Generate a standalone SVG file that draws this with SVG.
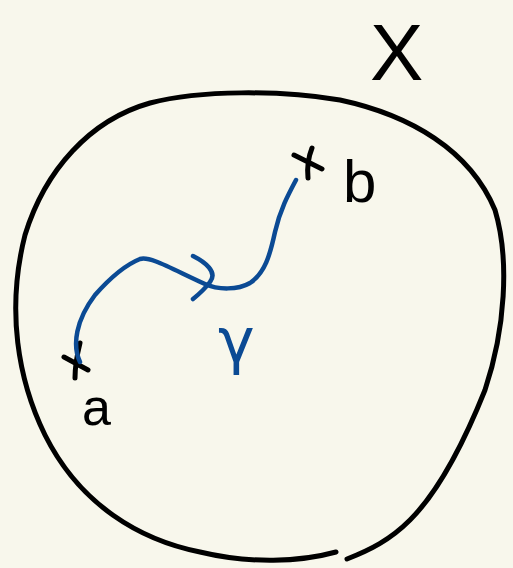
<svg xmlns="http://www.w3.org/2000/svg" width="513" height="568" viewBox="0 0 513 568">
<style>
.ink{fill:none;stroke:#000;stroke-width:5;stroke-linecap:round;stroke-linejoin:round}
.blue{fill:none;stroke:#0b4a94;stroke-width:4.5;stroke-linecap:round;stroke-linejoin:round}
.lbl{font-family:"Liberation Sans","DejaVu Sans",sans-serif;fill:#000}
</style>
<rect width="513" height="568" fill="#f8f7ec"/>
<g id="space-X">
<path class="ink" d="M336,552 C300,562 250,564 200,552 C140,540 80,505 45,435 C18,380 6,310 25,235 C45,170 90,120 150,103 C200,90 280,90 340,100 C410,115 470,150 495,210 C510,260 505,330 485,390 C465,440 440,490 410,520 C390,540 370,550 347,559"/>
<text class="lbl" x="370" y="80" font-size="80">X</text>
</g>
<g id="point-b">
<path class="ink" d="M294,155 L322,169 M312,148 C308,158 307,168 308,178"/>
<text class="lbl" x="343" y="202" font-size="60">b</text>
</g>
<g id="point-a">
<path class="ink" d="M64,357 L88,370 M80,343 C77,355 75,366 75,378"/>
<text class="lbl" x="82" y="425" font-size="52">a</text>
</g>
<g id="connectors">
<path class="blue" d="M80,362 C72,345 76,320 95,295 C110,278 125,265 140,259 C150,256 170,268 205,284 C218,290 238,290 250,283 C265,273 270,255 275,232 C280,210 288,195 296,180"/>
<path class="blue" d="M193,256 C205,262 218,272 210,282 C204,290 198,295 193,299"/>
<text x="218" y="362" font-family="DejaVu Sans, sans-serif" font-size="62" fill="#0b4a94">γ</text>
</g>
</svg>
